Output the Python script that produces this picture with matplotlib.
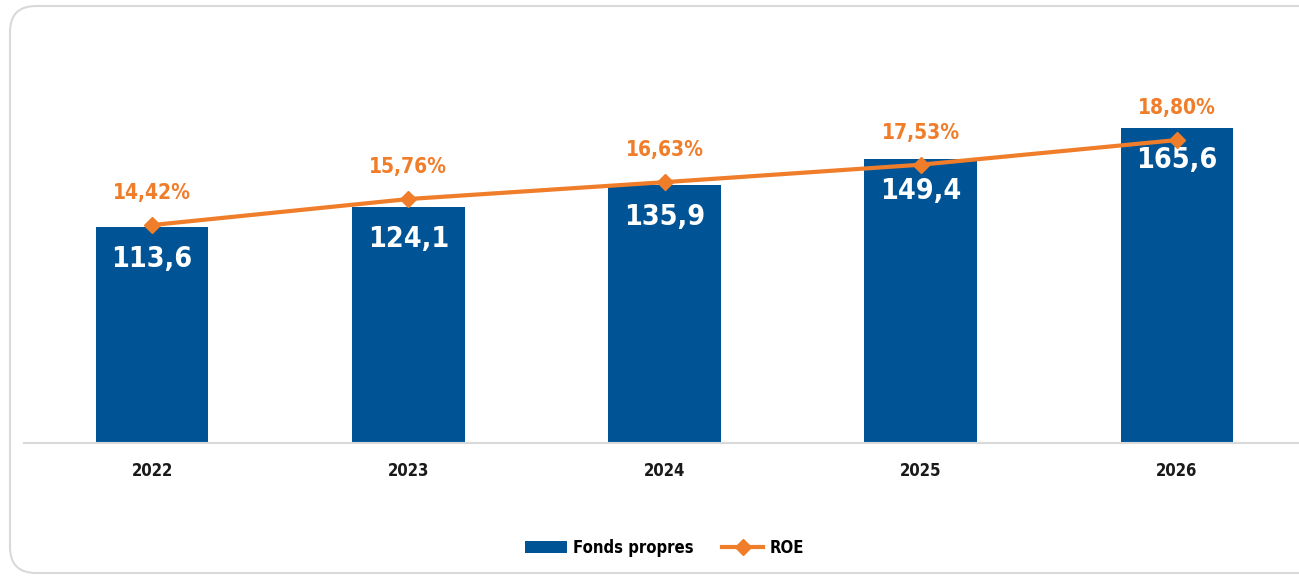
import matplotlib
matplotlib.use('Agg')
import matplotlib.pyplot as plt
from matplotlib.patches import FancyBboxPatch

years = ['2022', '2023', '2024', '2025', '2026']
fonds_propres = [113.6, 124.1, 135.9, 149.4, 165.6]
roe = [14.42, 15.76, 16.63, 17.53, 18.80]

blue = '#005496'
orange = '#F07D2A'
plt.rcParams['font.family'] = ['DejaVu Sans']
plt.rcParams['font.stretch'] = 'condensed'

fig = plt.figure(figsize=(12.99, 5.76), dpi=100)

# rounded card frame
frame = FancyBboxPatch((10 / 1299, 3 / 576), 1.1, 567 / 576,
                       boxstyle='round,pad=0,rounding_size=0.02',
                       transform=fig.transFigure, facecolor='white',
                       edgecolor='#d9d9d9', linewidth=1.5, mutation_aspect=2.25,
                       zorder=-1)
fig.patches.append(frame)

ax = fig.add_axes([24 / 1299, 133 / 576, 1281 / 1299, 380 / 576])
ax.patch.set_alpha(0)
x = list(range(len(years)))
bars = ax.bar(x, fonds_propres, width=0.44, color=blue, label='Fonds propres', zorder=2)
ax.set_xlim(-0.5, 4.5)
ax.set_ylim(0, 200)
for s in ['top', 'right', 'left']:
    ax.spines[s].set_visible(False)
ax.spines['bottom'].set_color('#d9d9d9')
ax.spines['bottom'].set_linewidth(1.5)
ax.set_yticks([])
ax.set_xticks(x)
ax.set_xticklabels(years, fontsize=12, fontweight='semibold', color='#1a1a1a')
ax.tick_params(axis='x', length=0, pad=14)

for xi, v in zip(x, fonds_propres):
    ax.annotate(f'{v:.1f}'.replace('.', ','), (xi, v), xytext=(0, -23),
                textcoords='offset points', ha='center', va='center',
                color='white', fontsize=20.5, fontweight='bold')

ax2 = ax.twinx()
ax2.set_ylim(3.19, 22.77)
ax2.axis('off')
line, = ax2.plot(x, roe, color=orange, linewidth=3, marker='D', markersize=8.5,
                 label='ROE', zorder=3)
for xi, v in zip(x, roe):
    ax2.annotate(f'{v:.2f}%'.replace('.', ','), (xi, v), xytext=(0, 23),
                 textcoords='offset points', ha='center', va='center',
                 color=orange, fontsize=15, fontweight='bold')

leg = ax.legend([bars, line], ['Fonds propres', 'ROE'], loc='center',
                bbox_to_anchor=(0.5, -105 / 380), ncol=2, frameon=False,
                handlelength=2.5, handletextpad=0.35, columnspacing=1.7,
                prop={'weight': 'semibold', 'size': 12})

fig.savefig('out.png', dpi=100)
